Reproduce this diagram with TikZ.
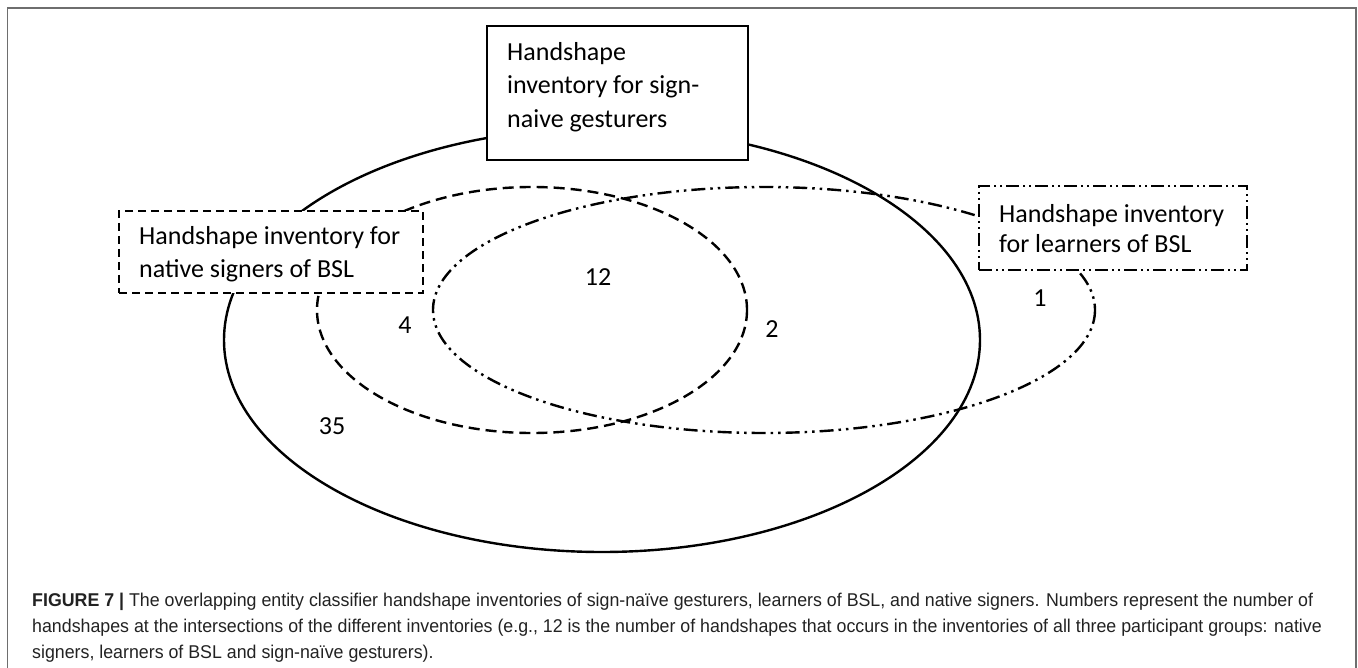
\documentclass[tikz,border=0pt]{standalone}
\usepackage{fontspec}
\usepackage{graphicx}
\setmainfont{Carlito}
\newfontfamily\capfont{Liberation Sans}
\definecolor{framegray}{HTML}{6E6E6E}
\definecolor{capgray}{HTML}{222222}
\newsavebox{\capboxA}
\newcommand{\capfontsel}{\capfont\fontsize{18.5}{26}\selectfont\color{capgray}}
\newcommand{\capLineOne}{\textbf{FIGURE 7 |} The overlapping entity classifier handshape inventories of sign-naïve gesturers, learners of BSL, and native signers. Numbers represent the number of}
\begin{document}
\sbox{\capboxA}{\capfontsel\capLineOne}%
\pgfmathsetmacro{\capscale}{1281/(\wd\capboxA/1pt)}%
\begin{tikzpicture}[x=1pt,y=-1pt,
  vsolid/.style={line width=2.4pt},
  vdashed/.style={line width=2.4pt, dash pattern=on 11pt off 6pt},
  vdashdot/.style={line width=2.4pt, dash pattern=on 14pt off 5pt on 2.5pt off 5pt on 2.5pt off 5pt},
  boxsolid/.style={draw, line width=2pt, fill=white, inner sep=0pt, anchor=north west},
  boxdashed/.style={boxsolid, dash pattern=on 8pt off 5pt},
  boxdashdot/.style={boxsolid, dash pattern=on 13pt off 4pt on 2pt off 4pt on 2pt off 4pt},
  boxtext/.style={font=\fontsize{26}{30}\selectfont, anchor=base west, inner sep=0pt},
  numtext/.style={font=\fontsize{26}{30}\selectfont, inner sep=0pt},
  captext/.style={anchor=base west, inner sep=0pt}]
\useasboundingbox (0,0) rectangle (1358,668);
% frame
\draw[framegray, line width=1.6pt] (7.5,670) -- (7.5,8) -- (1356,8) -- (1356,670);
% Venn outlines
\draw[vsolid] (602,340) ellipse [x radius=378, y radius=212];
\draw[vdashed] (532,310) ellipse [x radius=215, y radius=123];
\draw[vdashdot] (764,310) ellipse [x radius=331, y radius=123];
% boxes
\node[boxsolid, minimum width=261pt, minimum height=134pt] (gbox) at (486,25) {};
\node[boxdashed, minimum width=304pt, minimum height=82pt] (nbox) at (118,210) {};
\node[boxdashdot, minimum width=268pt, minimum height=84pt] (lbox) at (978,185) {};
% box texts
\node[boxtext] (g1) at (507,61) {Handshape};
\node[boxtext] (g2) at (507,94) {inventory for sign-};
\node[boxtext] (g3) at (507,128) {naive gesturers};
\node[boxtext] (n1) at (139,245) {Handshape inventory for};
\node[boxtext] (n2) at (139,278) {native signers of BSL};
\node[boxtext] (l1) at (999,223) {Handshape inventory};
\node[boxtext] (l2) at (999,253) {for learners of BSL};
% numbers
\node[numtext] (c12) at (598,277) {12};
\node[numtext] (c4) at (405,325) {4};
\node[numtext] (c2) at (772,329) {2};
\node[numtext] (c1) at (1040,298) {1};
\node[numtext] (c35) at (332,426) {35};
% caption
\node[captext] (cap1) at (32,606) {\scalebox{\capscale}[1]{\usebox{\capboxA}}};
\node[captext] (cap2) at (32,632) {\scalebox{\capscale}[1]{\capfontsel handshapes at the intersections of the different inventories (e.g., 12 is the number of handshapes that occurs in the inventories of all three participant groups: native}};
\node[captext] (cap3) at (32,658) {\scalebox{\capscale}[1]{\capfontsel signers, learners of BSL and sign-naïve gesturers).}};
\end{tikzpicture}
\end{document}
